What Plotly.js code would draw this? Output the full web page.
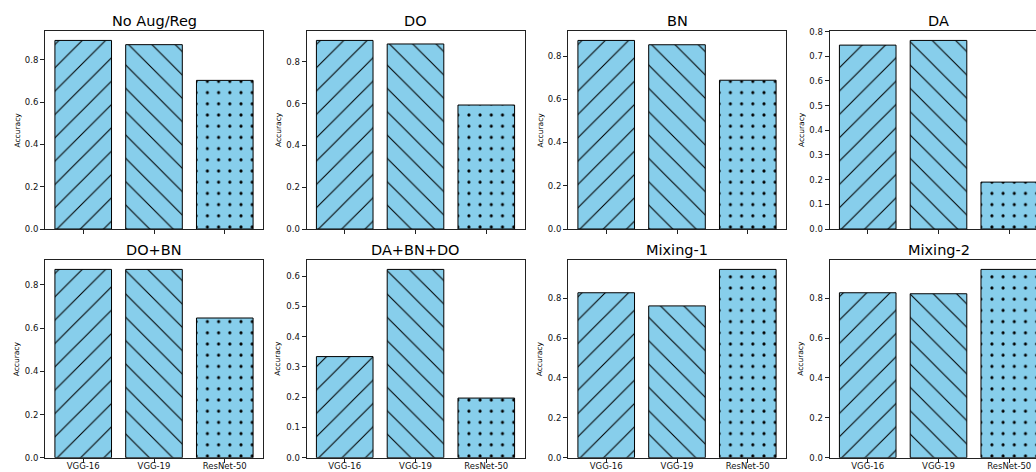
<!DOCTYPE html>
<html>
<head>
<meta charset="utf-8">
<script src="https://cdn.plot.ly/plotly-3.0.1.min.js"></script>
<style>
  html, body { margin: 0; padding: 0; background: #fff; overflow: hidden; width: 1036px; height: 472px; }
  #chart { width: 1050px; height: 472px; }
</style>
</head>
<body>
<div id="chart"></div>
<script>
// ---- data ----
const models = ['VGG-16', 'VGG-19', 'ResNet-50'];
const panelTitles = ['No Aug/Reg', 'DO', 'BN', 'DA', 'DO+BN', 'DA+BN+DO', 'Mixing-1', 'Mixing-2'];
const noAugReg = [0.892, 0.872, 0.703];
const dropout = [0.902, 0.885, 0.593];
const batchNorm = [0.872, 0.852, 0.688];
const dataAug = [0.745, 0.764, 0.190];
const doBn = [0.872, 0.872, 0.647];
const daBnDo = [0.334, 0.622, 0.197];
const mixing1 = [0.827, 0.761, 0.944];
const mixing2 = [0.827, 0.822, 0.944];
const hatches = ['/', '\\', '.'];
const yTickStep = [0.2, 0.2, 0.2, 0.1, 0.2, 0.1, 0.2, 0.2];

const series = [noAugReg, dropout, batchNorm, dataAug, doBn, daBnDo, mixing1, mixing2];

// ---- layout geometry (pixels) ----
const W = 1050, H = 472;
const colLeft = [45, 306.5, 568, 829.5];
const panelW = 218;
const rowTop = [31, 260];
const rowBottom = [229, 457.7];

const traces = [];
const layout = {
  width: W, height: H,
  margin: {l: 0, r: 0, t: 0, b: 0},
  paper_bgcolor: '#ffffff',
  plot_bgcolor: '#ffffff',
  showlegend: false,
  font: {family: 'DejaVu Sans', color: '#000', size: 8},
  annotations: []
};

series.forEach((vals, i) => {
  const r = Math.floor(i / 4), c = i % 4;
  const n = i + 1;
  const xa = 'x' + (n === 1 ? '' : n);
  const ya = 'y' + (n === 1 ? '' : n);
  traces.push({
    type: 'bar',
    x: models,
    y: vals,
    xaxis: xa, yaxis: ya,
    width: 0.8,
    marker: {
      color: '#87CEEB',
      line: {color: '#000', width: 1},
      pattern: {
        shape: hatches,
        fgcolor: '#000',
        bgcolor: '#87CEEB',
        size: [16.5, 16.5, 11.2],
        solidity: [0.065, 0.065, 0.06]
      }
    },
    hoverinfo: 'x+y'
  });
  const x0 = colLeft[c] / W, x1 = (colLeft[c] + panelW) / W;
  const y0 = (H - rowBottom[r]) / H, y1 = (H - rowTop[r]) / H;
  const ymax = Math.max(...vals) * 1.05;
  layout['xaxis' + (n === 1 ? '' : n)] = {
    domain: [x0, x1],
    anchor: ya,
    type: 'category',
    range: [-0.54, 2.54],
    showline: true, mirror: true, linecolor: '#222', linewidth: 1,
    ticks: 'outside', ticklen: 4, tickcolor: '#222', tickwidth: 1,
    showticklabels: r === 1,
    ticklabelstandoff: -4,
    tickfont: {family: 'DejaVu Sans', size: 8.5, color: '#111'},
    showgrid: false, zeroline: false, fixedrange: true
  };
  layout['yaxis' + (n === 1 ? '' : n)] = {
    domain: [y0, y1],
    anchor: xa,
    range: [0, ymax],
    dtick: yTickStep[i], tick0: 0,
    tickformat: '.1f',
    showline: true, mirror: true, linecolor: '#222', linewidth: 1,
    ticks: 'outside', ticklen: 4, tickcolor: '#222', tickwidth: 1,
    tickfont: {family: 'DejaVu Sans', size: 8.5, color: '#111'},
    showgrid: false, zeroline: false, fixedrange: true
  };
  // subplot title
  layout.annotations.push({
    text: panelTitles[i],
    xref: 'paper', yref: 'paper',
    x: (x0 + x1) / 2, y: y1,
    xanchor: 'center', yanchor: 'bottom',
    yshift: 0,
    showarrow: false,
    font: {family: 'DejaVu Sans', size: 14.5, color: '#000'}
  });
  // y-axis title
  layout.annotations.push({
    text: 'Accuracy',
    xref: 'paper', yref: 'paper',
    x: (colLeft[c] - 28.5) / W, y: (y0 + y1) / 2,
    xanchor: 'center', yanchor: 'middle',
    textangle: -90,
    showarrow: false,
    font: {family: 'DejaVu Sans', size: 7.5, color: '#000'}
  });
});

Plotly.newPlot('chart', traces, layout, {displayModeBar: false, staticPlot: true});
</script>
</body>
</html>
